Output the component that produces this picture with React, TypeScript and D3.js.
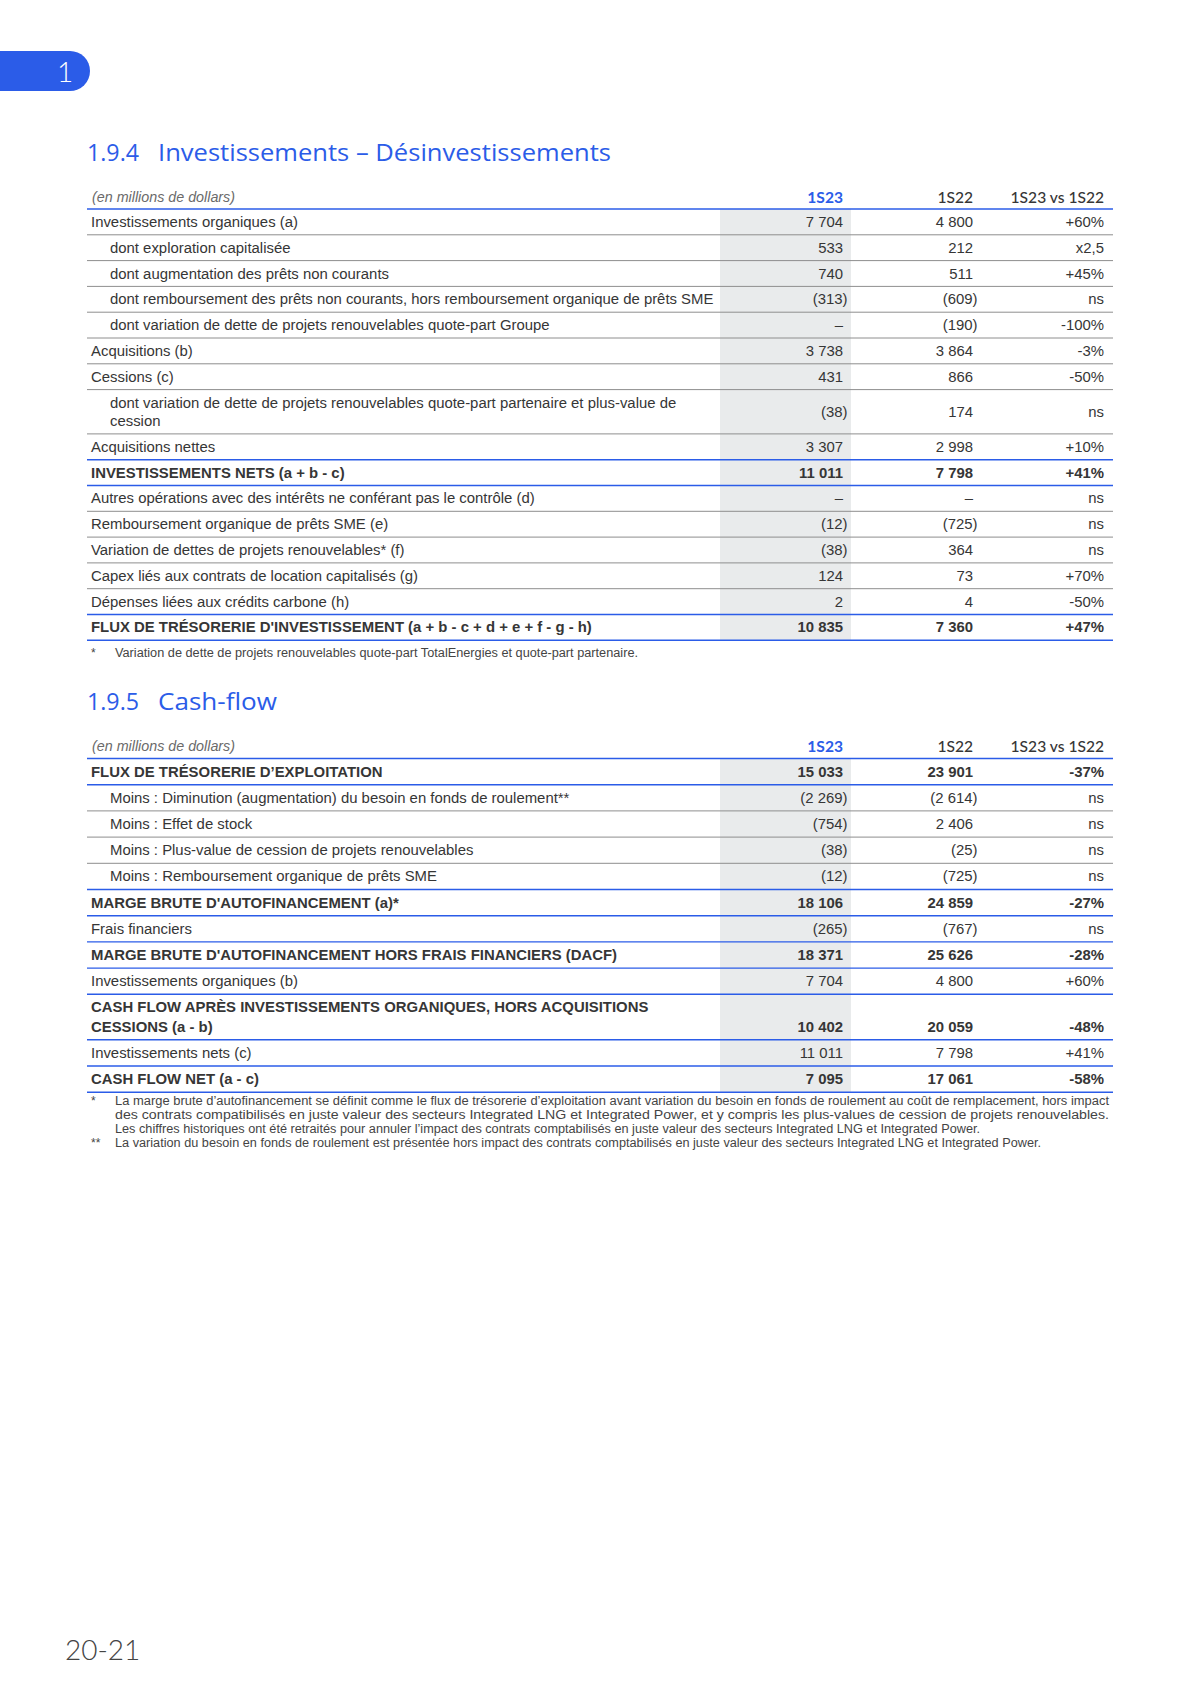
import React, { useEffect } from "react";
import * as d3 from "d3";

// ---------- DATA ----------
const colHeaders = ["1S23", "1S22", "1S23 vs 1S22"];

const invLabels = [
  ["Investissements organiques (a)"],
  ["dont exploration capitalisée"],
  ["dont augmentation des prêts non courants"],
  ["dont remboursement des prêts non courants, hors remboursement organique de prêts SME"],
  ["dont variation de dette de projets renouvelables quote-part Groupe"],
  ["Acquisitions (b)"],
  ["Cessions (c)"],
  ["dont variation de dette de projets renouvelables quote-part partenaire et plus-value de", "cession"],
  ["Acquisitions nettes"],
  ["INVESTISSEMENTS NETS (a + b - c)"],
  ["Autres opérations avec des intérêts ne conférant pas le contrôle (d)"],
  ["Remboursement organique de prêts SME (e)"],
  ["Variation de dettes de projets renouvelables* (f)"],
  ["Capex liés aux contrats de location capitalisés (g)"],
  ["Dépenses liées aux crédits carbone (h)"],
  ["FLUX DE TRÉSORERIE D'INVESTISSEMENT (a + b - c + d + e + f - g - h)"],
];
const inv1S23 = ["7 704", "533", "740", "(313)", "–", "3 738", "431", "(38)", "3 307", "11 011", "–", "(12)", "(38)", "124", "2", "10 835"];
const inv1S22 = ["4 800", "212", "511", "(609)", "(190)", "3 864", "866", "174", "2 998", "7 798", "–", "(725)", "364", "73", "4", "7 360"];
const invVar = ["+60%", "x2,5", "+45%", "ns", "-100%", "-3%", "-50%", "ns", "+10%", "+41%", "ns", "ns", "ns", "+70%", "-50%", "+47%"];
const invBold = [0, 0, 0, 0, 0, 0, 0, 0, 0, 1, 0, 0, 0, 0, 0, 1];
const invIndent = [0, 1, 1, 1, 1, 0, 0, 1, 0, 0, 0, 0, 0, 0, 0, 0];
const invNotes = [["*", "Variation de dette de projets renouvelables quote-part TotalEnergies et quote-part partenaire."]];

const cfLabels = [
  ["FLUX DE TRÉSORERIE D’EXPLOITATION"],
  ["Moins : Diminution (augmentation) du besoin en fonds de roulement**"],
  ["Moins : Effet de stock"],
  ["Moins : Plus-value de cession de projets renouvelables"],
  ["Moins : Remboursement organique de prêts SME"],
  ["MARGE BRUTE D'AUTOFINANCEMENT (a)*"],
  ["Frais financiers"],
  ["MARGE BRUTE D'AUTOFINANCEMENT HORS FRAIS FINANCIERS (DACF)"],
  ["Investissements organiques (b)"],
  ["CASH FLOW APRÈS INVESTISSEMENTS ORGANIQUES, HORS ACQUISITIONS", "CESSIONS (a - b)"],
  ["Investissements nets (c)"],
  ["CASH FLOW NET (a - c)"],
];
const cf1S23 = ["15 033", "(2 269)", "(754)", "(38)", "(12)", "18 106", "(265)", "18 371", "7 704", "10 402", "11 011", "7 095"];
const cf1S22 = ["23 901", "(2 614)", "2 406", "(25)", "(725)", "24 859", "(767)", "25 626", "4 800", "20 059", "7 798", "17 061"];
const cfVar = ["-37%", "ns", "ns", "ns", "ns", "-27%", "ns", "-28%", "+60%", "-48%", "+41%", "-58%"];
const cfBold = [1, 0, 0, 0, 0, 1, 0, 1, 0, 1, 0, 1];
const cfIndent = [0, 1, 1, 1, 1, 0, 0, 0, 0, 0, 0, 0];
const cfNotes = [
  ["*", "La marge brute d’autofinancement se définit comme le flux de trésorerie d’exploitation avant variation du besoin en fonds de roulement au coût de remplacement, hors impact"],
  ["", "des contrats compatibilisés en juste valeur des secteurs Integrated LNG et Integrated Power, et y compris les plus-values de cession de projets renouvelables."],
  ["", "Les chiffres historiques ont été retraités pour annuler l’impact des contrats comptabilisés en juste valeur des secteurs Integrated LNG et Integrated Power."],
  ["**", "La variation du besoin en fonds de roulement est présentée hors impact des contrats comptabilisés en juste valeur des secteurs Integrated LNG et Integrated Power."],
];

// ---------- STYLE ----------
const BLUE = "#2b5ce8";
const TEXT = "#363636";
const GRAYLINE = "#8e8e8e";
const SHADE = "#e9ebec";
const BODY_FONT = "'Liberation Sans', Arial, sans-serif";
const HEAD_FONT = "Lato, 'Open Sans', sans-serif";
const TITLE_FONT = "'Open Sans', Lato, sans-serif";
const FS = 14.9;

const X_LEFT = 87;
const X_RIGHT = 1113;
const SHADE_X0 = 720;
const SHADE_X1 = 851;
const colX = d3.scaleOrdinal<string, number>().domain(["c1", "c2", "c3"]).range([843, 973, 1104]);

type TableProps = {
  headerY: number;
  lineY: number;
  rowH: number;
  dblH: number;
  labels: string[][];
  v1: string[];
  v2: string[];
  v3: string[];
  bold: number[];
  indent: number[];
  dblAlignBottom: boolean;
  notes: string[][];
  noteY: number;
  noteEnds: number[];
};

function Table(p: TableProps) {
  const heights = p.labels.map((l) => (l.length > 1 ? p.dblH : p.rowH));
  const cum = Array.from(d3.cumsum(heights));
  const tops = heights.map((_, i) => p.lineY + (i === 0 ? 0 : cum[i - 1]));
  const bottom = p.lineY + cum[cum.length - 1];
  const lines = d3.range(p.labels.length + 1).map((i) => {
    const y = i === p.labels.length ? bottom : tops[i];
    const blue = i === 0 || i === p.labels.length || p.bold[i] === 1 || p.bold[i - 1] === 1;
    return { y, blue };
  });
  const numX = (base: number, s: string) => (s.startsWith("(") ? base + 4.5 : base);
  return (
    <g>
      <rect x={SHADE_X0} y={p.lineY} width={SHADE_X1 - SHADE_X0} height={bottom - p.lineY} fill={SHADE} />
      <text x={92} y={p.headerY} dominantBaseline="central" fontFamily={BODY_FONT} fontStyle="italic" fontSize={14.3} fill="#6a6a6a">
        (en millions de dollars)
      </text>
      {colHeaders.map((h, i) => (
        <text
          key={h}
          x={colX(["c1", "c2", "c3"][i])}
          y={p.headerY}
          textAnchor="end"
          dominantBaseline="central"
          fontFamily={HEAD_FONT}
          fontWeight={i === 0 ? 700 : 500}
          fontSize={15.6}
          fill={i === 0 ? BLUE : TEXT}
        >
          {h}
        </text>
      ))}
      {p.labels.map((lab, i) => {
        const top = tops[i];
        const h = heights[i];
        const fw = p.bold[i] ? 700 : 400;
        const lx = p.indent[i] ? 110 : 91;
        const dbl = lab.length > 1;
        const vy = dbl ? (p.dblAlignBottom ? top + 32.5 : top + h / 2) : top + h / 2;
        return (
          <g key={i}>
            {lab.map((t, j) => (
              <text
                key={j}
                x={lx}
                y={dbl ? top + 13 + j * (p.dblAlignBottom ? 19.5 : 18.5) : top + h / 2}
                dominantBaseline="central"
                fontFamily={BODY_FONT}
                fontSize={FS}
                fontWeight={fw}
                fill={TEXT}
              >
                {t}
              </text>
            ))}
            {[p.v1[i], p.v2[i], p.v3[i]].map((v, k) => (
              <text
                key={k}
                x={k < 2 ? numX(colX(["c1", "c2", "c3"][k]), v) : colX("c3")}
                y={vy}
                textAnchor="end"
                dominantBaseline="central"
                fontFamily={BODY_FONT}
                fontSize={FS}
                fontWeight={fw}
                fill={TEXT}
              >
                {v}
              </text>
            ))}
          </g>
        );
      })}
      {lines.map((l, i) => (
        <line
          key={i}
          x1={X_LEFT}
          x2={X_RIGHT}
          y1={l.y}
          y2={l.y}
          stroke={l.blue ? BLUE : GRAYLINE}
          strokeWidth={l.blue ? 1.4 : 1}
        />
      ))}
      {p.notes.map((n, i) => (
        <g key={i}>
          <text x={91} y={p.noteY + i * 14.1} dominantBaseline="central" fontFamily={BODY_FONT} fontSize={12} fill="#444">
            {n[0]}
          </text>
          <text
            x={115}
            y={p.noteY + i * 14.1}
            dominantBaseline="central"
            fontFamily={BODY_FONT}
            fontSize={12}
            fill="#444"
            textLength={p.noteEnds[i] - 115}
            lengthAdjust="spacingAndGlyphs"
          >
            {n[1]}
          </text>
        </g>
      ))}
    </g>
  );
}

export default function App() {
  useEffect(() => {
    document.body.style.margin = "0";
  }, []);
  return (
    <svg width={1200} height={1697} viewBox="0 0 1200 1697" style={{ display: "block", background: "#fff" }}>
      <rect width={1200} height={1697} fill="#fff" />
      {/* chapter tab */}
      <path d="M0,51 H70 A20,20 0 0 1 70,91 H0 Z" fill={BLUE} />
      <text x={65} y={71} textAnchor="middle" dominantBaseline="central" fontFamily={HEAD_FONT} fontWeight={300} fontSize={28} fill="#fff">
        1
      </text>

      {/* Section 1.9.4 */}
      <text x={87} y={161} fontFamily={TITLE_FONT} fontWeight={400} fontSize={23} fill={BLUE} textLength={52} lengthAdjust="spacingAndGlyphs">
        1.9.4
      </text>
      <text x={158} y={161} fontFamily={TITLE_FONT} fontWeight={400} fontSize={23} fill={BLUE} textLength={453} lengthAdjust="spacingAndGlyphs">
        Investissements – Désinvestissements
      </text>
      <Table
        headerY={197}
        lineY={209}
        rowH={25.8}
        dblH={44.3}
        labels={invLabels}
        v1={inv1S23}
        v2={inv1S22}
        v3={invVar}
        bold={invBold}
        indent={invIndent}
        dblAlignBottom={false}
        notes={invNotes}
        noteY={653}
        noteEnds={[638]}
      />

      {/* Section 1.9.5 */}
      <text x={87} y={710} fontFamily={TITLE_FONT} fontWeight={400} fontSize={23} fill={BLUE} textLength={52} lengthAdjust="spacingAndGlyphs">
        1.9.5
      </text>
      <text x={158} y={710} fontFamily={TITLE_FONT} fontWeight={400} fontSize={23} fill={BLUE} textLength={119} lengthAdjust="spacingAndGlyphs">
        Cash-flow
      </text>
      <Table
        headerY={746}
        lineY={758.5}
        rowH={26.2}
        dblH={45.5}
        labels={cfLabels}
        v1={cf1S23}
        v2={cf1S22}
        v3={cfVar}
        bold={cfBold}
        indent={cfIndent}
        dblAlignBottom={true}
        notes={cfNotes}
        noteY={1100.5}
        noteEnds={[1109, 1109, 980, 1041]}
      />

      {/* page number */}
      <text x={65} y={1660} fontFamily={HEAD_FONT} fontWeight={300} fontSize={28} fill="#444">
        20-21
      </text>
    </svg>
  );
}
